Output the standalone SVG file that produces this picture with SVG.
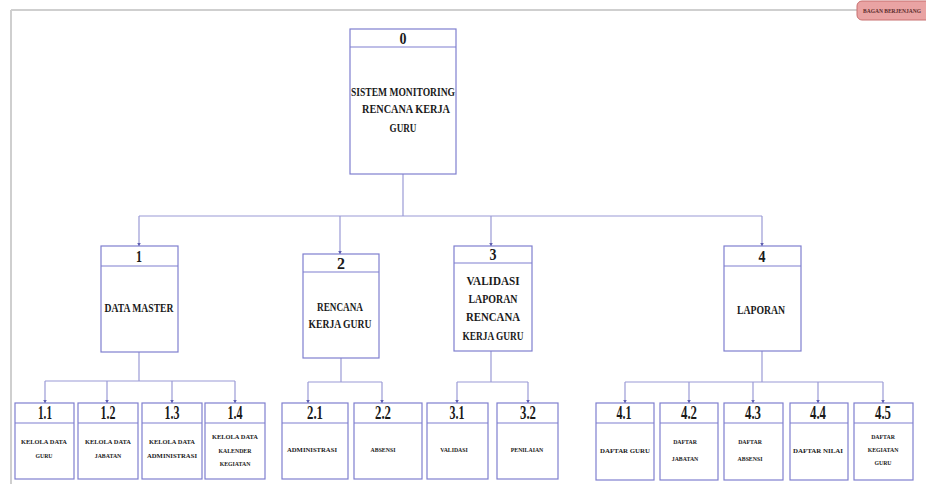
<svg xmlns="http://www.w3.org/2000/svg" width="926" height="484" viewBox="0 0 926 484">
<style>
.bx{fill:#fff;stroke:#7f7fcf;stroke-width:1.2}
.hl{stroke:#7f7fcf;stroke-width:1.2}
.cn{fill:none;stroke:#9a9ad6;stroke-width:1.2}
.ar{fill:none;stroke:#9a9ad6;stroke-width:1.2;marker-end:url(#ah)}
text{font-family:"Liberation Serif","Times New Roman",serif;font-weight:bold;fill:#1a1a1a;text-anchor:middle}
.n0{font-size:16px}
.n1{font-size:17px}
.n2{font-size:18px}
.t1{font-size:12px}
.t2{font-size:5.8px}
.tab{font-size:6px;fill:#5a2a2a;text-anchor:start}
</style>
<defs>
<marker id="ah" markerWidth="4" markerHeight="4" refX="3.5" refY="2" orient="auto" markerUnits="userSpaceOnUse">
<path d="M0,0 L4,2 L0,4 Z" fill="#6060b0"/>
</marker>
</defs>
<g id="frame">
<line x1="11" y1="10" x2="858" y2="10" stroke="#cfcfcf" stroke-width="2"/>
<line x1="11" y1="10" x2="11" y2="484" stroke="#cfcfcf" stroke-width="2"/>
<rect x="857" y="1" width="80" height="19" rx="5" fill="#e9a3a3" stroke="#c87070" stroke-width="1"/>
<text class="tab" x="863" y="13" textLength="58" lengthAdjust="spacingAndGlyphs">BAGAN BERJENJANG</text>
</g>
<g id="connectors">
<polyline class="cn" points="403,174 403,216"/>
<line class="cn" x1="139" y1="216" x2="762" y2="216"/>
<line class="ar" x1="139" y1="216" x2="139" y2="246"/>
<line class="ar" x1="340" y1="216" x2="340" y2="254"/>
<line class="ar" x1="491" y1="216" x2="491" y2="246"/>
<line class="ar" x1="762" y1="216" x2="762" y2="246"/>
<polyline class="cn" points="139,352 139,381"/>
<line class="cn" x1="45" y1="381" x2="235" y2="381"/>
<line class="ar" x1="45" y1="381" x2="45" y2="403"/>
<line class="ar" x1="107" y1="381" x2="107" y2="403"/>
<line class="ar" x1="172" y1="381" x2="172" y2="403"/>
<line class="ar" x1="235" y1="381" x2="235" y2="403"/>
<polyline class="cn" points="341,358 341,382"/>
<line class="cn" x1="308" y1="382" x2="382" y2="382"/>
<line class="ar" x1="308" y1="382" x2="308" y2="403"/>
<line class="ar" x1="382" y1="382" x2="382" y2="403"/>
<polyline class="cn" points="491,351 491,382"/>
<line class="cn" x1="457" y1="382" x2="528" y2="382"/>
<line class="ar" x1="457" y1="382" x2="457" y2="403"/>
<line class="ar" x1="528" y1="382" x2="528" y2="403"/>
<polyline class="cn" points="762,351 762,382"/>
<line class="cn" x1="625" y1="382" x2="883" y2="382"/>
<line class="ar" x1="625" y1="382" x2="625" y2="403"/>
<line class="ar" x1="689" y1="382" x2="689" y2="403"/>
<line class="ar" x1="753" y1="382" x2="753" y2="403"/>
<line class="ar" x1="818" y1="382" x2="818" y2="403"/>
<line class="ar" x1="883" y1="382" x2="883" y2="403"/>
</g>
<g id="node0">
<rect class="bx" x="350" y="29" width="106" height="145"/>
<line class="hl" x1="350" y1="47" x2="456" y2="47"/>
<text class="n0" x="403" y="44" textLength="7" lengthAdjust="spacingAndGlyphs">0</text>
<text class="t1" x="403" y="96" textLength="104" lengthAdjust="spacingAndGlyphs">SISTEM MONITORING</text>
<text class="t1" x="406" y="113" textLength="88" lengthAdjust="spacingAndGlyphs">RENCANA KERJA</text>
<text class="t1" x="403" y="132" textLength="27" lengthAdjust="spacingAndGlyphs">GURU</text>
</g>
<g id="node1">
<rect class="bx" x="101" y="246" width="77" height="106"/>
<line class="hl" x1="101" y1="266" x2="178" y2="266"/>
<text class="n1" x="139" y="262" textLength="6" lengthAdjust="spacingAndGlyphs">1</text>
<text class="t1" x="139" y="312" textLength="69" lengthAdjust="spacingAndGlyphs">DATA MASTER</text>
</g>
<g id="node2">
<rect class="bx" x="303" y="254" width="76" height="104"/>
<line class="hl" x1="303" y1="272" x2="379" y2="272"/>
<text class="n1" x="341" y="269" textLength="8" lengthAdjust="spacingAndGlyphs">2</text>
<text class="t1" x="340" y="311" textLength="46" lengthAdjust="spacingAndGlyphs">RENCANA</text>
<text class="t1" x="340" y="328" textLength="63" lengthAdjust="spacingAndGlyphs">KERJA GURU</text>
</g>
<g id="node3">
<rect class="bx" x="454" y="246" width="78" height="105"/>
<line class="hl" x1="454" y1="263" x2="532" y2="263"/>
<text class="n1" x="493" y="260" textLength="7" lengthAdjust="spacingAndGlyphs">3</text>
<text class="t1" x="493" y="285" textLength="53" lengthAdjust="spacingAndGlyphs">VALIDASI</text>
<text class="t1" x="493" y="303" textLength="49" lengthAdjust="spacingAndGlyphs">LAPORAN</text>
<text class="t1" x="493" y="321" textLength="54" lengthAdjust="spacingAndGlyphs">RENCANA</text>
<text class="t1" x="493" y="340" textLength="61" lengthAdjust="spacingAndGlyphs">KERJA GURU</text>
</g>
<g id="node4">
<rect class="bx" x="724" y="246" width="77" height="105"/>
<line class="hl" x1="724" y1="266" x2="801" y2="266"/>
<text class="n1" x="762" y="262" textLength="7" lengthAdjust="spacingAndGlyphs">4</text>
<text class="t1" x="761" y="314" textLength="48" lengthAdjust="spacingAndGlyphs">LAPORAN</text>
</g>
<g id="node1_1">
<rect class="bx" x="15" y="403" width="59" height="76"/>
<line class="hl" x1="15" y1="423" x2="74" y2="423"/>
<text class="n2" x="45" y="419" textLength="14" lengthAdjust="spacingAndGlyphs">1.1</text>
<text class="t2" x="44" y="444" textLength="46" lengthAdjust="spacingAndGlyphs">KELOLA DATA</text>
<text class="t2" x="44" y="458">GURU</text>
</g>
<g id="node1_2">
<rect class="bx" x="78" y="403" width="60" height="76"/>
<line class="hl" x1="78" y1="423" x2="138" y2="423"/>
<text class="n2" x="108" y="419" textLength="15" lengthAdjust="spacingAndGlyphs">1.2</text>
<text class="t2" x="108" y="444" textLength="46" lengthAdjust="spacingAndGlyphs">KELOLA DATA</text>
<text class="t2" x="108" y="458">JABATAN</text>
</g>
<g id="node1_3">
<rect class="bx" x="142" y="403" width="60" height="76"/>
<line class="hl" x1="142" y1="423" x2="202" y2="423"/>
<text class="n2" x="172" y="419" textLength="15" lengthAdjust="spacingAndGlyphs">1.3</text>
<text class="t2" x="172" y="444" textLength="46" lengthAdjust="spacingAndGlyphs">KELOLA DATA</text>
<text class="t2" x="172" y="458" textLength="50" lengthAdjust="spacingAndGlyphs">ADMINISTRASI</text>
</g>
<g id="node1_4">
<rect class="bx" x="205" y="403" width="60" height="76"/>
<line class="hl" x1="205" y1="423" x2="265" y2="423"/>
<text class="n2" x="235" y="419" textLength="15" lengthAdjust="spacingAndGlyphs">1.4</text>
<text class="t2" x="235" y="439" textLength="46" lengthAdjust="spacingAndGlyphs">KELOLA DATA</text>
<text class="t2" x="235" y="453">KALENDER</text>
<text class="t2" x="235" y="466">KEGIATAN</text>
</g>
<g id="node2_1">
<rect class="bx" x="282" y="403" width="66" height="76"/>
<line class="hl" x1="282" y1="423" x2="348" y2="423"/>
<text class="n2" x="315" y="419" textLength="16" lengthAdjust="spacingAndGlyphs">2.1</text>
<text class="t2" x="312" y="452" textLength="50" lengthAdjust="spacingAndGlyphs">ADMINISTRASI</text>
</g>
<g id="node2_2">
<rect class="bx" x="354" y="403" width="68" height="76"/>
<line class="hl" x1="354" y1="423" x2="422" y2="423"/>
<text class="n2" x="383" y="419" textLength="16" lengthAdjust="spacingAndGlyphs">2.2</text>
<text class="t2" x="383" y="452">ABSENSI</text>
</g>
<g id="node3_1">
<rect class="bx" x="427" y="403" width="61" height="76"/>
<line class="hl" x1="427" y1="423" x2="488" y2="423"/>
<text class="n2" x="457" y="419" textLength="15" lengthAdjust="spacingAndGlyphs">3.1</text>
<text class="t2" x="454" y="452">VALIDASI</text>
</g>
<g id="node3_2">
<rect class="bx" x="497" y="403" width="61" height="76"/>
<line class="hl" x1="497" y1="423" x2="558" y2="423"/>
<text class="n2" x="528" y="419" textLength="16" lengthAdjust="spacingAndGlyphs">3.2</text>
<text class="t2" x="527" y="452">PENILAIAN</text>
</g>
<g id="node4_1">
<rect class="bx" x="596" y="403" width="58" height="77"/>
<line class="hl" x1="596" y1="423" x2="654" y2="423"/>
<text class="n2" x="624" y="419" textLength="15" lengthAdjust="spacingAndGlyphs">4.1</text>
<text class="t2" x="625" y="453" textLength="50" lengthAdjust="spacingAndGlyphs">DAFTAR GURU</text>
</g>
<g id="node4_2">
<rect class="bx" x="660" y="403" width="58" height="77"/>
<line class="hl" x1="660" y1="423" x2="718" y2="423"/>
<text class="n2" x="689" y="419" textLength="16" lengthAdjust="spacingAndGlyphs">4.2</text>
<text class="t2" x="685" y="444">DAFTAR</text>
<text class="t2" x="685" y="461">JABATAN</text>
</g>
<g id="node4_3">
<rect class="bx" x="724" y="403" width="59" height="77"/>
<line class="hl" x1="724" y1="423" x2="783" y2="423"/>
<text class="n2" x="753" y="419" textLength="16" lengthAdjust="spacingAndGlyphs">4.3</text>
<text class="t2" x="750" y="444">DAFTAR</text>
<text class="t2" x="750" y="461">ABSENSI</text>
</g>
<g id="node4_4">
<rect class="bx" x="790" y="403" width="58" height="77"/>
<line class="hl" x1="790" y1="423" x2="848" y2="423"/>
<text class="n2" x="818" y="419" textLength="16" lengthAdjust="spacingAndGlyphs">4.4</text>
<text class="t2" x="818" y="453" textLength="50" lengthAdjust="spacingAndGlyphs">DAFTAR NILAI</text>
</g>
<g id="node4_5">
<rect class="bx" x="854" y="403" width="59" height="77"/>
<line class="hl" x1="854" y1="423" x2="913" y2="423"/>
<text class="n2" x="883" y="419" textLength="16" lengthAdjust="spacingAndGlyphs">4.5</text>
<text class="t2" x="883" y="439">DAFTAR</text>
<text class="t2" x="883" y="452">KEGIATAN</text>
<text class="t2" x="883" y="465">GURU</text>
</g>
</svg>
